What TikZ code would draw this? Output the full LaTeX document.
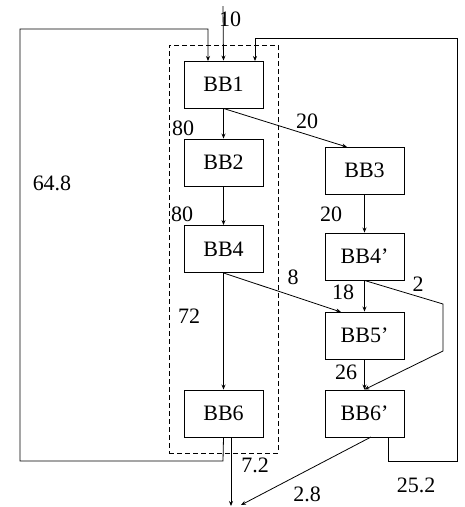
\documentclass[tikz,border=0pt]{standalone}
\usepackage{fontspec}
\setmainfont{Liberation Serif}
\usetikzlibrary{arrows.meta}
\begin{document}
\begin{tikzpicture}[x=1pt,y=-1pt,
  bb/.style={draw,line width=0.9pt,minimum width=79pt,minimum height=47pt,inner sep=0pt,font=\fontsize{22}{24}\selectfont},
  lbl/.style={font=\fontsize{22}{24}\selectfont,inner sep=0pt},
  conn/.style={line width=0.8pt},
  arr/.style={conn,-{Stealth[length=5pt,width=4pt]}}]
\useasboundingbox (0,0) rectangle (465,507);
\node[bb] (bb1) at (223.5,84.5) {BB1};
\node[bb] (bb2) at (223.5,162.5) {BB2};
\node[bb] (bb4) at (223.5,249) {BB4};
\node[bb] (bb6) at (223.5,413.5) {BB6};
\node[bb] (bb3) at (364.5,170.5) {BB3};
\node[bb] (bb4p) at (364.5,256.5) {BB4’};
\node[bb] (bb5p) at (364.5,335.5) {BB5’};
\node[bb] (bb6p) at (364.5,413.5) {BB6’};
\node[draw,dash pattern=on 5pt off 3pt,line width=0.8pt,minimum width=109pt,minimum height=408pt,inner sep=0pt] (region) at (223.5,249) {};
\coordinate (top) at (223,6);
\coordinate (exitA) at (231,506);
\coordinate (exitB) at (241,505);
% entry
\draw[arr] (top) -- (bb1.north);
% left loop
\draw[arr] (bb6.south) -- (223,461) -- (20,461) -- (20,29) -- (208,29) -- (208,61);
% right loop
\draw[arr] (388,437) -- (388,461) -- (457,461) -- (457,38) -- (255,38) -- (255,61);
% internal
\draw[arr] (bb1.south) -- (bb2.north);
\draw[arr] (bb1.south) -- (347,147);
\draw[arr] (bb2.south) -- (bb4.north);
\draw[arr] (bb3.south) -- (bb4p.north);
\draw[arr] (bb4.south) -- (341,312);
\draw[arr] (bb4.south) -- (bb6.north);
\draw[arr] (bb4p.south) -- (bb5p.north);
\draw[arr] (bb4p.south) -- (443,304) -- (443,351) -- (bb6p.north);
\draw[arr] (bb5p.south) -- (bb6p.north);
% exits
\draw[arr] (231,437) -- (exitA);
\draw[arr] (371,437) -- (exitB);
% labels
\node[lbl] (l10) at (230,19) {10};
\node[lbl] (l80a) at (183,128) {80};
\node[lbl] (l20a) at (307,121) {20};
\node[lbl] (l648) at (52,183) {64.8};
\node[lbl] (l80b) at (182,214) {80};
\node[lbl] (l20b) at (331,214) {20};
\node[lbl] (l8) at (293,277) {8};
\node[lbl] (l18) at (343,292) {18};
\node[lbl] (l2) at (418,284) {2};
\node[lbl] (l72) at (189,316) {72};
\node[lbl] (l26) at (346,372) {26};
\node[lbl] (l72b) at (255,465) {7.2};
\node[lbl] (l28) at (307,494) {2.8};
\node[lbl] (l252) at (416,485) {25.2};
\end{tikzpicture}
\end{document}
